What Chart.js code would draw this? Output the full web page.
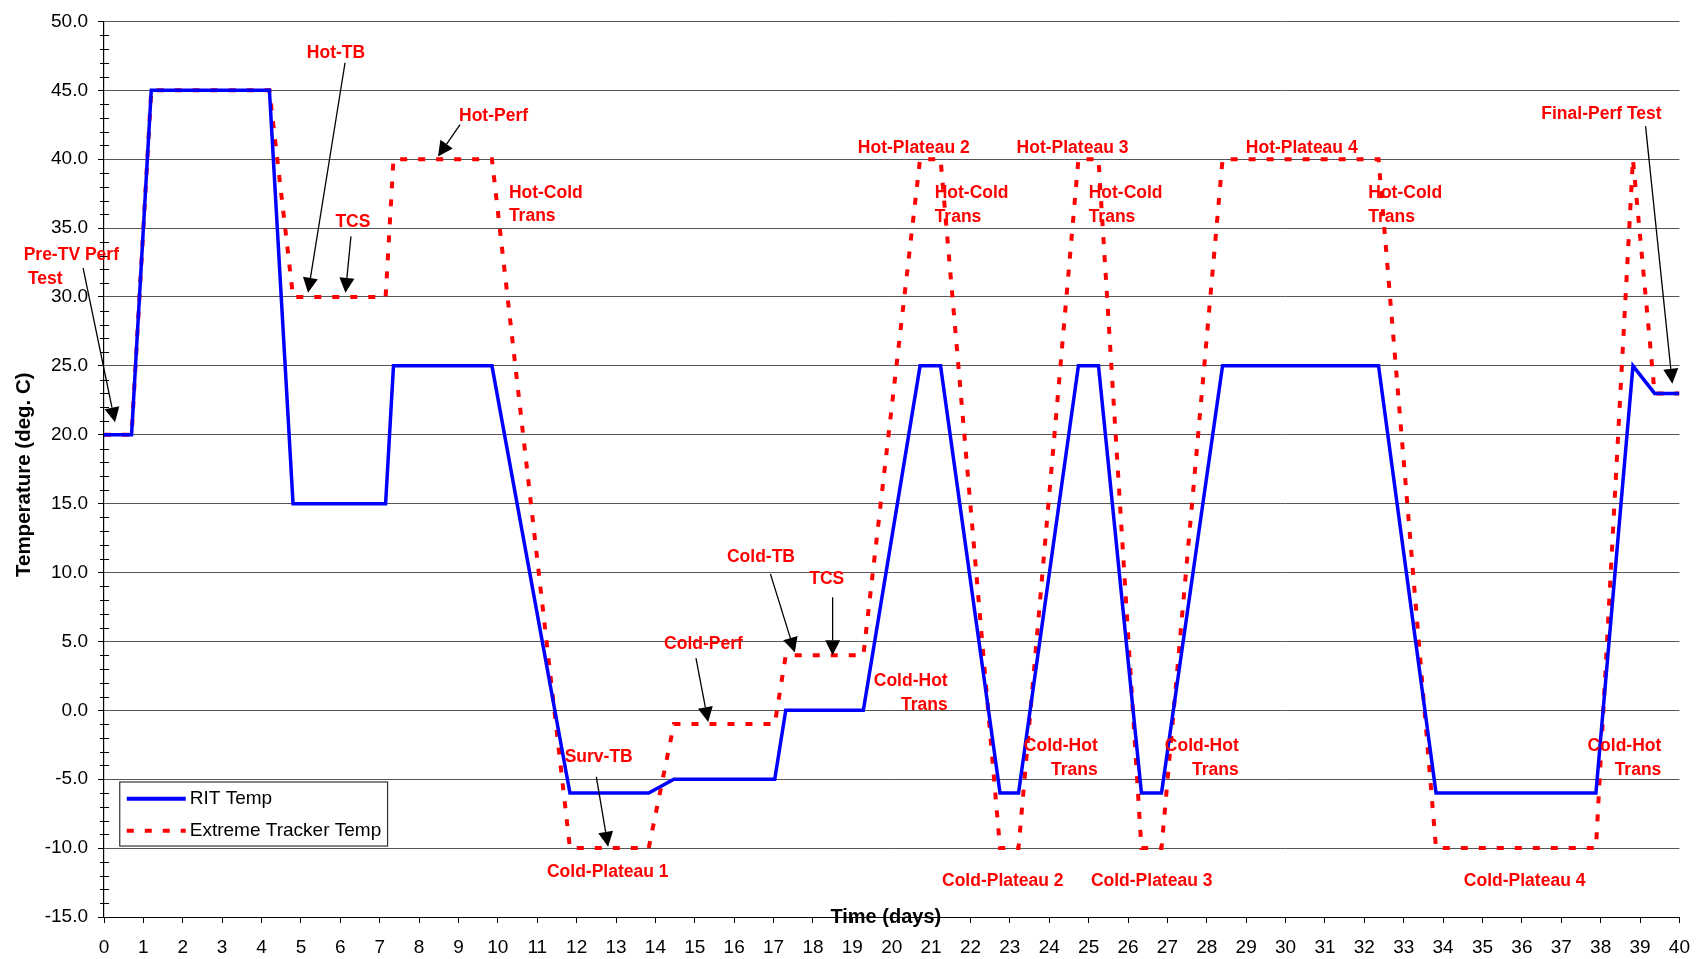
<!DOCTYPE html>
<html><head><meta charset="utf-8">
<script src="https://cdn.jsdelivr.net/npm/chart.js@4/dist/chart.umd.min.js"></script>
<style>html,body{margin:0;padding:0;background:#fff;}#wrap{width:1703px;height:959px;}</style>
</head><body><div id="wrap"><canvas id="c" width="1703" height="959"></canvas></div>
<script>
// ---- data (days, deg C) ----
const days        = [0,0.7,1.2,4.2,4.8,7.15,7.35,9.85,11.83,13.83,14.47,17.03,17.31,19.28,20.72,21.24,22.75,23.22,24.74,25.25,26.34,26.85,28.4,32.36,33.82,37.88,38.82,39.37,40];
const ritTemp     = [20,20,45,45,15,15,25,25,-6,-6,-5,-5,0,0,25,25,-6,-6,25,25,-6,-6,25,25,-6,-6,25,23,23];
const trackerTemp = [20,20,45,45,30,30,40,40,-10,-10,-1,-1,4,4,40,40,-10,-10,40,40,-10,-10,40,40,-10,-10,40,23,23];
const seriesNames = ["RIT Temp","Extreme Tracker Temp"];
const xTitle = "Time (days)";
const yTitle = "Temperature (deg. C)";

// annotation labels: [text, day, temp, align]
const noteText  = ["Hot-TB","TCS","Pre-TV Perf","Test","Hot-Perf","Hot-Cold","Trans","Hot-Plateau 2","Hot-Cold","Trans","Hot-Plateau 3","Hot-Cold","Trans","Hot-Plateau 4","Hot-Cold","Trans","Final-Perf Test",
                   "Surv-TB","Cold-Plateau 1","Cold-Perf","Cold-TB","TCS","Cold-Hot","Trans","Cold-Hot","Trans","Cold-Hot","Trans","Cold-Hot","Trans","Cold-Plateau 2","Cold-Plateau 3","Cold-Plateau 4"];
const noteDay   = [5.89,6.32,-0.83,-1.49,9.89,10.28,10.28,20.56,21.09,21.09,24.59,25.0,25.0,30.41,32.1,32.1,38.02,
                   12.56,12.79,15.22,16.68,18.35,21.42,21.42,25.23,25.23,28.81,28.81,39.54,39.54,22.82,26.6,36.07];
const noteTemp  = [47.7,35.4,33.0,31.3,43.1,37.55,35.85,40.8,37.5,35.8,40.8,37.5,35.8,40.8,37.5,35.8,43.3,
                   -3.38,-11.76,4.78,11.1,9.5,2.1,0.36,-2.6,-4.35,-2.6,-4.35,-2.6,-4.35,-12.4,-12.4,-12.4];
const noteAlign = ["center","center","center","center","center","left","left","center","left","left","center","left","left","center","left","left","center",
                   "center","center","center","center","center","right","right","right","right","right","right","right","right","center","center","center"];

// arrows: from (day,temp) to tip (day,temp)
const arrowFromDay  = [-0.53,6.12,6.27,9.04,12.5,15.03,16.92,18.5,39.14];
const arrowFromTemp = [32.1,47.0,34.4,42.5,-4.83,3.79,9.9,8.2,42.4];
const arrowToDay    = [0.28,5.18,6.13,8.48,12.8,15.34,17.54,18.5,39.82];
const arrowToTemp   = [20.9,30.3,30.3,40.2,-9.9,-0.85,4.2,4.0,23.7];

const BLUE = '#0000FF', RED = '#FF0000';
const FONT = '"Liberation Sans", Arial, sans-serif';

const overlay = {
  id:'overlay',
  afterDraw(chart){
    const ctx = chart.ctx, xs = chart.scales.x, ys = chart.scales.y, ca = chart.chartArea;
    ctx.save();
    // minor y ticks
    ctx.strokeStyle = '#000'; ctx.lineWidth = 1;
    for (let v = -15; v <= 50; v++) {
      if (v % 5 === 0) continue;
      const py = Math.round(ys.getPixelForValue(v)) + 0.5;
      ctx.beginPath(); ctx.moveTo(ca.left - 4, py); ctx.lineTo(ca.left + 5, py); ctx.stroke();
    }
    // axis titles
    ctx.fillStyle = '#000';
    ctx.font = 'bold 20px ' + FONT;
    ctx.textAlign = 'center'; ctx.textBaseline = 'middle';
    ctx.fillText(xTitle, xs.getPixelForValue(19.85), ca.bottom);
    ctx.save();
    ctx.font = 'bold 20.5px ' + FONT;
    ctx.translate(24, (ca.top + ca.bottom) / 2 + 5.5);
    ctx.rotate(-Math.PI / 2);
    ctx.fillText(yTitle, 0, 0);
    ctx.restore();

    // annotations
    ctx.fillStyle = RED;
    ctx.font = 'bold 17.5px ' + FONT;
    for (let i = 0; i < noteText.length; i++) {
      ctx.textAlign = noteAlign[i];
      ctx.fillText(noteText[i], xs.getPixelForValue(noteDay[i]), ys.getPixelForValue(noteTemp[i]));
    }
    // arrows
    ctx.strokeStyle = '#000'; ctx.fillStyle = '#000'; ctx.lineWidth = 1.3;
    for (let i = 0; i < arrowFromDay.length; i++) {
      const x0 = xs.getPixelForValue(arrowFromDay[i]), y0 = ys.getPixelForValue(arrowFromTemp[i]);
      const x1 = xs.getPixelForValue(arrowToDay[i]), y1 = ys.getPixelForValue(arrowToTemp[i]);
      const a = Math.atan2(y1 - y0, x1 - x0), L = 15, W = 7.5;
      const bx = x1 - L * Math.cos(a), by = y1 - L * Math.sin(a);
      ctx.beginPath(); ctx.moveTo(x0, y0); ctx.lineTo(bx, by); ctx.stroke();
      ctx.beginPath();
      ctx.moveTo(x1, y1);
      ctx.lineTo(bx + W * Math.sin(a), by - W * Math.cos(a));
      ctx.lineTo(bx - W * Math.sin(a), by + W * Math.cos(a));
      ctx.closePath(); ctx.fill();
    }

    // legend box
    const lx = xs.getPixelForValue(0.4), rx = xs.getPixelForValue(7.2);
    const ty = ys.getPixelForValue(-5.2), by2 = ys.getPixelForValue(-9.85);
    ctx.fillStyle = '#fff'; ctx.fillRect(lx, ty, rx - lx, by2 - ty);
    ctx.strokeStyle = '#333'; ctx.lineWidth = 1.2; ctx.strokeRect(lx, ty, rx - lx, by2 - ty);
    const r1 = ty + (by2 - ty) * 0.26, r2 = ty + (by2 - ty) * 0.76;
    ctx.lineWidth = 4; ctx.strokeStyle = BLUE; ctx.setLineDash([]);
    ctx.beginPath(); ctx.moveTo(lx + 7, r1); ctx.lineTo(lx + 66, r1); ctx.stroke();
    ctx.strokeStyle = RED; ctx.setLineDash([7, 11]);
    ctx.beginPath(); ctx.moveTo(lx + 7, r2); ctx.lineTo(lx + 66, r2); ctx.stroke();
    ctx.setLineDash([]);
    ctx.fillStyle = '#000'; ctx.font = '19px ' + FONT; ctx.textAlign = 'left';
    ctx.fillText(seriesNames[0], lx + 70, r1);
    ctx.fillText(seriesNames[1], lx + 70, r2);
    ctx.restore();
  }
};

new Chart(document.getElementById('c'), {
  type: 'line',
  data: {
    datasets: [
      { label: seriesNames[0], data: days.map((d,i)=>({x:d,y:ritTemp[i]})), borderColor: BLUE, borderWidth: 3.5, pointRadius: 0, tension: 0, fill:false },
      { label: seriesNames[1], data: days.map((d,i)=>({x:d,y:trackerTemp[i]})), borderColor: RED, borderWidth: 4, borderDash:[7,11], pointRadius: 0, tension: 0, fill:false }
    ]
  },
  options: {
    responsive: false, animation: false, devicePixelRatio: 1,
    layout: { padding: { top: 18, right: 22, left: 0, bottom: 0 } },
    plugins: { legend: { display: false }, tooltip: { enabled: false } },
    scales: {
      x: {
        type: 'linear', min: 0, max: 40,
        afterFit(s){ s.height = 42; },
        ticks: { stepSize: 1, autoSkip: false, maxRotation: 0, color: '#000', font: { family: FONT, size: 19 }, padding: 13 },
        grid: { drawOnChartArea: false, drawTicks: true, tickLength: 6, color: '#000' },
        border: { display: true, color: '#000', width: 1 }
      },
      y: {
        min: -15, max: 50,
        afterFit(s){ s.width = 104; },
        ticks: { stepSize: 5, color: '#000', font: { family: FONT, size: 19 }, padding: 10, callback: v => v.toFixed(1) },
        grid: { color: '#555', lineWidth: 1, tickLength: 6, tickColor: '#000' },
        border: { display: true, color: '#000', width: 1.2 }
      }
    }
  },
  plugins: [overlay]
});
</script></body></html>
